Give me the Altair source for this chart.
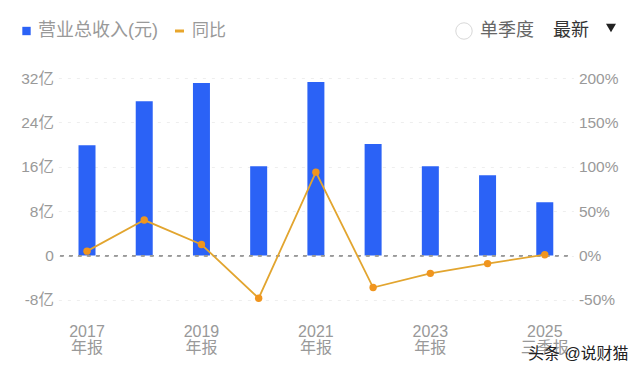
import altair as alt
import pandas as pd

FONT = "Liberation Sans, Noto Sans CJK SC"
categories = ["2017|年报", "2018|年报", "2019|年报", "2020|年报", "2021|年报",
              "2022|年报", "2023|年报", "2024|年报", "2025|三季报"]
tick_labels = ["2017|年报", "2019|年报", "2021|年报", "2023|年报", "2025|三季报"]
revenue = [19.9, 27.8, 31.1, 16.1, 31.3, 20.1, 16.1, 14.5, 9.6]
yoy = [5, 40, 12.5, -48, 94, -36, -20, -9, 1]
left_ticks = [-8, 0, 8, 16, 24, 32]
right_ticks = [-50, 0, 50, 100, 150, 200]

df = pd.DataFrame({"cat": categories, "revenue": revenue, "yoy": yoy})

x = alt.X("cat:N", title=None, sort=categories,
          scale=alt.Scale(domain=categories),
          axis=alt.Axis(values=tick_labels, labelExpr="split(datum.value,'|')",
                        labelAngle=0, domain=False, ticks=False, labelPadding=32,
                        labelColor="#999999", labelFontSize=16, labelLineHeight=16,
                        labelFont=FONT, labelBaseline="middle", grid=False))
left_scale = alt.Scale(domain=[-8, 32], nice=False, zero=False)
right_scale = alt.Scale(domain=[-50, 200], nice=False, zero=False)

bars = alt.Chart(df).mark_bar(color="#2b62f6", size=17).encode(
    x=x,
    y=alt.Y("revenue:Q", title=None, scale=left_scale,
            axis=alt.Axis(values=left_ticks, orient="left", domain=False, ticks=False,
                          labelExpr="datum.value === 0 ? '0' : datum.value + '亿'",
                          labelColor="#999999", labelFontSize=15.5, labelPadding=5, labelFont=FONT,
                          grid=True, gridColor="#eeeeee", gridDash=[3, 6])))

zero = alt.Chart(df).mark_rule(color="#9a9a9a", strokeDash=[3, 6], strokeWidth=1.2).encode(
    x=alt.value(2), x2=alt.value(510),
    y=alt.datum(0, scale=left_scale, axis=None))

line = alt.Chart(df).mark_line(color="#e2a52f", strokeWidth=1.8).encode(
    x=x,
    y=alt.Y("yoy:Q", title=None, scale=right_scale,
            axis=alt.Axis(values=right_ticks, orient="right", domain=False, ticks=False,
                          grid=False, labelExpr="datum.value + '%'",
                          labelColor="#999999", labelFontSize=15.5, labelPadding=5, labelFont=FONT)))

points = alt.Chart(df).mark_circle(color="#f0951e", size=55, opacity=1).encode(
    x=x,
    y=alt.Y("yoy:Q", title=None, scale=right_scale, axis=None))


def label(txt, px, py, color="#999999", size=18, align="left"):
    return alt.Chart(df.head(1)).mark_text(
        text=txt, color=color, fontSize=size, align=align, baseline="middle", font=FONT
    ).encode(x=alt.value(px), y=alt.value(py))


ox, oy = 50.4 + 8, 78
legend_rev = alt.Chart(df.head(1)).mark_square(color="#2b62f6", size=70, opacity=1).encode(
    x=alt.value(26.5 - ox), y=alt.value(31 - oy))
legend_yoy = alt.Chart(df.head(1)).mark_rule(color="#e8a62c", strokeWidth=3).encode(
    x=alt.value(175 - ox), x2=alt.value(184 - ox), y=alt.value(31 - oy))
radio = alt.Chart(df.head(1)).mark_point(color="#c8c8c8", size=270, filled=False, strokeWidth=1).encode(
    x=alt.value(464 - ox), y=alt.value(31 - oy))
tri = alt.Chart(df.head(1)).mark_point(shape="triangle-down", color="#222222", filled=True,
                                        size=100, opacity=1).encode(
    x=alt.value(611 - ox), y=alt.value(28 - oy))

chart = alt.layer(
    bars, zero, line, points,
    legend_rev, label("营业总收入(元)", 38 - ox, 31 - oy),
    legend_yoy, label("同比", 192 - ox, 31 - oy, size=17),
    radio, label("单季度", 480 - ox, 31 - oy, color="#666666"),
    label("最新", 553 - ox, 31 - oy, color="#333333"),
    tri,
    label("头条 @说财猫", 528 - ox, 354 - oy, color="#222222", size=16),
).resolve_scale(y="independent").properties(
    width=515, height=222, background="white",
    autosize=alt.AutoSizeParams(type="none"),
    padding={"left": 50.4, "top": 70, "right": 58, "bottom": 65},
).configure_view(strokeWidth=0, stroke="transparent")

chart.save("out.html", embed_options={"renderer": "svg", "actions": False})
